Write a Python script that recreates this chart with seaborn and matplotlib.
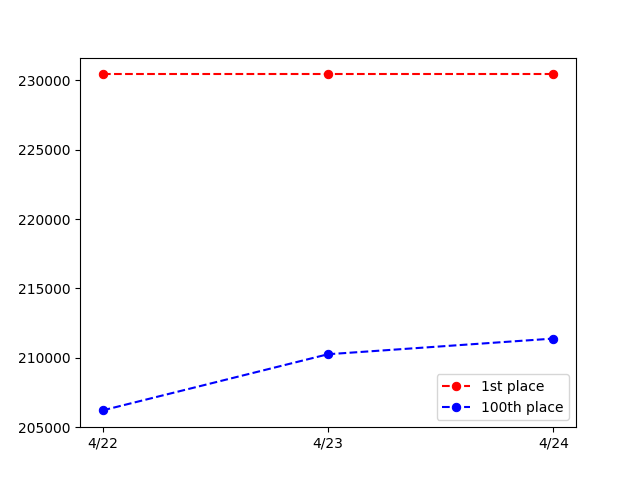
import matplotlib
matplotlib.use("Agg")
import matplotlib.pyplot as plt
import seaborn as sns
import pandas as pd

dates = ["4/22", "4/23", "4/24"]
first_place = [230430, 230430, 230430]
hundredth_place = [206200, 210250, 211380]

df = pd.DataFrame({"date": dates, "first": first_place, "hundredth": hundredth_place})

fig, ax = plt.subplots(figsize=(6.4, 4.8), dpi=100)
sns.lineplot(data=df, x="date", y="first", ax=ax, color="red", marker="o",
             linestyle="--", markeredgecolor="red", label="1st place")
sns.lineplot(data=df, x="date", y="hundredth", ax=ax, color="blue", marker="o",
             linestyle="--", markeredgecolor="blue", label="100th place")
ax.set_xlabel("")
ax.set_ylabel("")
ax.legend(loc="lower right")
fig.savefig("out.png")
